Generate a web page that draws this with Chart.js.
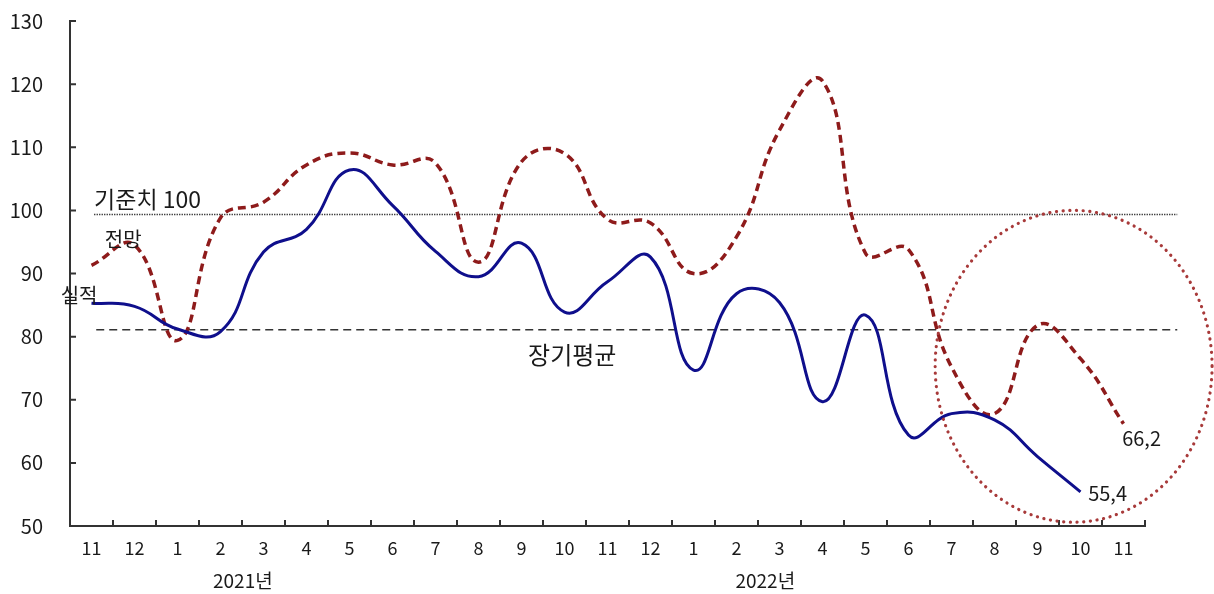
<!DOCTYPE html>
<html>
<head>
<meta charset="utf-8">
<script src="https://cdn.jsdelivr.net/npm/chart.js@4.4.1/dist/chart.umd.min.js"></script>
<style>
  html, body { margin: 0; padding: 0; background: #fff; }
  #wrap { width: 1214px; height: 594px; position: relative; }
</style>
</head>
<body>
<div id="wrap"><canvas id="c"></canvas></div>
<script>
// ---- data ----
const categories = ['11','12','1','2','3','4','5','6','7','8','9','10','11','12','1','2','3','4','5','6','7','8','9','10','11'];
const actual   = [85.3, 84.8, 81.2, 80.8, 93.4, 97.0, 106.4, 100.8, 93.5, 89.5, 94.8, 83.9, 88.7, 92.6, 74.7, 86.8, 85.4, 69.7, 83.4, 64.4, 67.8, 66.8, 61.0, 55.4, null];
const forecast = [91.3, 94.5, 79.4, 98.8, 101.3, 107.2, 109.1, 107.2, 107.5, 91.8, 107.7, 109.0, 98.6, 98.0, 90.0, 95.8, 112.7, 120.5, 93.2, 93.8, 75.2, 67.8, 81.8, 76.5, 66.2];
const seriesNames = ['실적', '전망'];
const yMin = 50, yMax = 130, yStep = 10;
const baseLineValue = 99.4;   // 기준치 100
const avgLineValue = 81.1;    // 장기평균
const yearLabels = [['2021년', 3.52], ['2022년', 15.67]];

const FONT = "'Noto Sans CJK KR', 'Noto Sans', sans-serif";

const notes = [
  { text: '기준치 100', x: 0.06,  y: 101.8, size: 23, align: 'left' },
  { text: '전망',       x: 0.31,  y: 95.4,  size: 20, align: 'left' },
  { text: '실적',       x: -0.29, y: 86.6,  size: 20, align: 'center' },
  { text: '장기평균',   x: 11.18, y: 77.1,  size: 24, align: 'center' },
  { text: '66,2',       x: 24.42, y: 63.8,  size: 20, align: 'center' },
  { text: '55,4',       x: 23.63, y: 55.1,  size: 20, align: 'center' }
];
const ellipse = { cx: 22.84, cy: 75.3, x0: 19.63, x1: 26.07, y0: 100.0, y1: 50.6 };
const refStart = 0.06, refEnd = 25.25;

const decor = {
  id: 'decor',
  beforeDatasetsDraw(chart) {
    const { ctx, scales: { x, y } } = chart;
    ctx.save();
    // 기준치 dotted line
    ctx.strokeStyle = '#333';
    ctx.lineWidth = 1.3;
    ctx.setLineDash([1.3, 1.2]);
    ctx.beginPath();
    const yb = Math.round(y.getPixelForValue(baseLineValue)) + 0.5;
    ctx.moveTo(x.getPixelForValue(refStart), yb);
    ctx.lineTo(x.getPixelForValue(refEnd), yb);
    ctx.stroke();
    // 장기평균 dashed line
    ctx.strokeStyle = '#333';
    ctx.lineWidth = 1.6;
    ctx.setLineDash([8, 5]);
    ctx.beginPath();
    const ya = y.getPixelForValue(avgLineValue);
    ctx.moveTo(x.getPixelForValue(refStart + 0.05), ya);
    ctx.lineTo(x.getPixelForValue(refEnd), ya);
    ctx.stroke();
    ctx.restore();
  },
  afterDraw(chart) {
    const { ctx, chartArea: a, scales: { x, y } } = chart;
    ctx.save();
    // inward ticks
    ctx.strokeStyle = '#333';
    ctx.lineWidth = 2;
    ctx.setLineDash([]);
    ctx.beginPath();
    for (let v = yMin + yStep; v <= yMax; v += yStep) {
      const py = y.getPixelForValue(v);
      ctx.moveTo(a.left, py); ctx.lineTo(a.left + 6, py);
    }
    for (let i = 1; i <= categories.length; i++) {
      const px = x.getPixelForValue(i - 0.5);
      ctx.moveTo(px, a.bottom); ctx.lineTo(px, a.bottom - 6);
    }
    ctx.stroke();

    // circle annotation
    const cx = x.getPixelForValue(ellipse.cx), cy = y.getPixelForValue(ellipse.cy);
    const rx = (x.getPixelForValue(ellipse.x1) - x.getPixelForValue(ellipse.x0)) / 2;
    const ry = (y.getPixelForValue(ellipse.y1) - y.getPixelForValue(ellipse.y0)) / 2;
    ctx.strokeStyle = '#a83a3a';
    ctx.lineWidth = 3.2;
    ctx.lineCap = 'round';
    ctx.setLineDash([0.1, 6.6]);
    ctx.beginPath();
    ctx.ellipse(cx, cy, rx, ry, 0, 0, Math.PI * 2);
    ctx.stroke();

    // texts
    ctx.setLineDash([]);
    ctx.fillStyle = '#1a1a1a';
    ctx.textBaseline = 'middle';
    for (const n of notes) {
      ctx.font = n.size + 'px ' + FONT;
      ctx.textAlign = n.align;
      ctx.fillText(n.text, x.getPixelForValue(n.x), y.getPixelForValue(n.y));
    }
    ctx.font = '19px ' + FONT;
    ctx.textAlign = 'center';
    for (const [t, xi] of yearLabels) {
      ctx.fillText(t, x.getPixelForValue(xi), a.bottom + 55);
    }
    ctx.restore();
  }
};

Chart.defaults.font.family = FONT;

new Chart(document.getElementById('c'), {
  type: 'line',
  data: {
    labels: categories,
    datasets: [
      {
        label: seriesNames[0],
        data: actual,
        borderColor: '#0f0f8c',
        borderWidth: 3,
        tension: 0.45,
        pointRadius: 0,
        fill: false,
        spanGaps: false
      },
      {
        label: seriesNames[1],
        data: forecast,
        borderColor: '#8e1b1b',
        borderWidth: 3.5,
        borderDash: [8, 5],
        tension: 0.45,
        pointRadius: 0,
        fill: false
      }
    ]
  },
  options: {
    responsive: true,
    maintainAspectRatio: false,
    devicePixelRatio: 1,
    animation: false,
    layout: { padding: { top: 21, right: 69, left: 0, bottom: 0 } },
    plugins: { legend: { display: false }, tooltip: { enabled: false } },
    scales: {
      x: {
        offset: true,
        grid: { display: false, drawTicks: false },
        border: { display: true, color: '#333', width: 2 },
        ticks: { color: '#1a1a1a', font: { size: 18 }, padding: 11, maxRotation: 0, autoSkip: false },
        afterFit(s) { s.height = 68; }
      },
      y: {
        min: yMin, max: yMax,
        grid: { display: false, drawTicks: true, tickLength: 27 },
        border: { display: true, color: '#333', width: 2 },
        ticks: { stepSize: yStep, color: '#1a1a1a', font: { size: 20 }, padding: 0 },
        afterFit(s) { s.width = 70; }
      }
    }
  },
  plugins: [decor]
});
</script>
</body>
</html>
